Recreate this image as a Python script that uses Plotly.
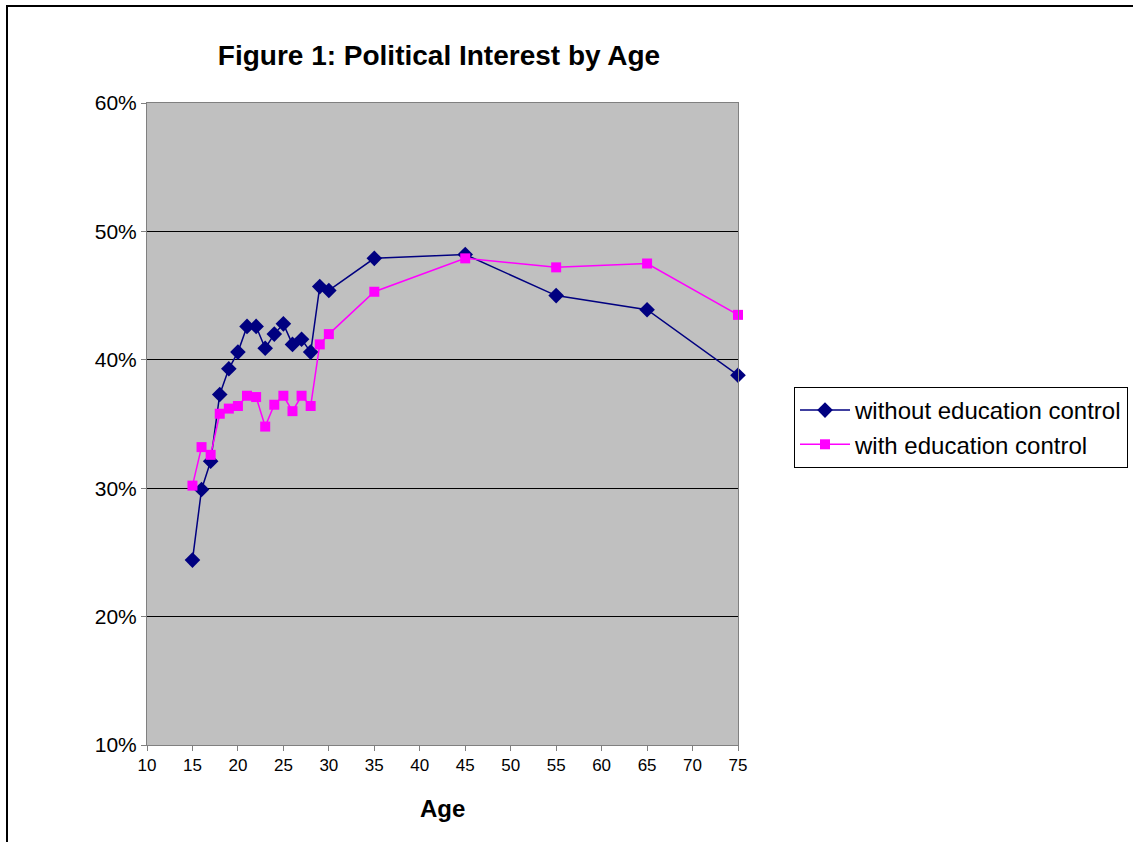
import plotly.graph_objects as go

# Age groups and share of respondents reporting political interest
ages = [15, 16, 17, 18, 19, 20, 21, 22, 23, 24, 25, 26, 27, 28, 29, 30, 35, 45, 55, 65, 75]
without_control = [0.244, 0.299, 0.321, 0.373, 0.393, 0.406, 0.426, 0.426, 0.409, 0.420, 0.428,
                   0.412, 0.416, 0.406, 0.457, 0.454, 0.479, 0.482, 0.450, 0.439, 0.388]
with_control = [0.302, 0.332, 0.326, 0.358, 0.362, 0.364, 0.372, 0.371, 0.348, 0.365, 0.372,
                0.360, 0.372, 0.364, 0.412, 0.420, 0.453, 0.479, 0.472, 0.475, 0.435]

title_text = "Figure 1: Political Interest by Age"
x_title = "Age"
series_names = ["without education control", "with education control"]

FONT = "Arial, Liberation Sans, sans-serif"

fig = go.Figure()
fig.add_trace(go.Scatter(
    x=ages, y=without_control, name=series_names[0], mode="lines+markers",
    line=dict(color="#000080", width=1.5),
    marker=dict(symbol="diamond", size=12, color="#000080"),
    cliponaxis=False,
))
fig.add_trace(go.Scatter(
    x=ages, y=with_control, name=series_names[1], mode="lines+markers",
    line=dict(color="#FF00FF", width=1.5),
    marker=dict(symbol="square", size=10, color="#FF00FF"),
    cliponaxis=False,
))

W, H = 1133, 842
L, R, T, B = 147, 738, 103, 745

fig.update_layout(
    width=W, height=H,
    margin=dict(l=L, r=W - R, t=T, b=H - B, autoexpand=False),
    paper_bgcolor="white",
    plot_bgcolor="#C0C0C0",
    font=dict(family=FONT, color="black"),
    title=dict(text="<b>" + title_text + "</b>", x=439 / W, xanchor="center",
               y=1 - 55 / H, yanchor="middle", yref="container",
               font=dict(size=28, family=FONT, color="black")),
    showlegend=True,
    legend=dict(x=(794 - L) / (R - L), y=(B - 387) / (B - T), xanchor="left", yanchor="top",
                bgcolor="white", bordercolor="black", borderwidth=1,
                font=dict(size=24, family=FONT, color="black"),
                tracegroupgap=0, itemwidth=50),
)

fig.update_xaxes(
    range=[10, 75], dtick=5, tick0=10, showgrid=False, zeroline=False,
    showline=True, linecolor="#808080", linewidth=1, mirror=True,
    ticks="outside", ticklen=5, tickcolor="#808080",
    tickfont=dict(size=17, family=FONT, color="black"),
)
fig.update_yaxes(
    range=[0.1, 0.6], dtick=0.1, tick0=0.1, tickformat=".0%",
    showgrid=True, gridcolor="black", gridwidth=1, zeroline=False,
    showline=True, linecolor="#808080", linewidth=1, mirror=True,
    ticks="outside", ticklen=5, tickcolor="#808080",
    tickfont=dict(size=21, family=FONT, color="black"),
)

fig.add_annotation(text="<b>" + x_title + "</b>", xref="paper", yref="paper",
                   x=0.5, y=(B - 808) / (B - T), xanchor="center", yanchor="middle",
                   showarrow=False, font=dict(size=24, family=FONT, color="black"))

# Outer chart frame (runs past the right and bottom edges of the page)
fig.add_shape(type="rect", xref="paper", yref="paper",
              x0=(7 - L) / (R - L), x1=(W + 50 - L) / (R - L),
              y0=(B - (H + 50)) / (B - T), y1=(B - 6) / (B - T),
              line=dict(color="black", width=2), layer="below")

fig.write_html("out.html")
